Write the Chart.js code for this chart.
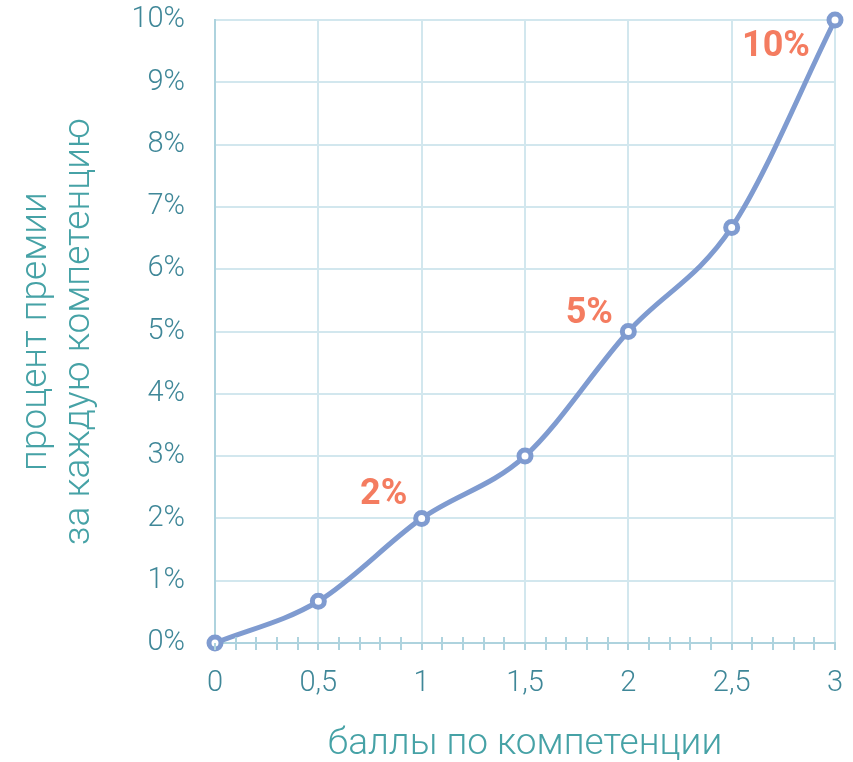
<!DOCTYPE html>
<html>
<head>
<meta charset="utf-8">
<script src="https://cdn.jsdelivr.net/npm/chart.js@4/dist/chart.umd.min.js"></script>
<style>
  html, body { margin: 0; padding: 0; background: #ffffff; }
  #wrap { width: 853px; height: 762px; }
</style>
</head>
<body>
<div id="wrap"><canvas id="c" width="853" height="762"></canvas></div>
<script>
// Score on the competency scale and the bonus percent earned for it
const scores = [0, 0.5, 1, 1.5, 2, 2.5, 3];
const bonusPercent = [0, 0.67, 2, 3, 5, 6.67, 10];
// Points whose value is written next to them
const labelledPoints = [2, 4, 6];
const xTitle = 'баллы по компетенции';
const yTitle = ['процент премии', 'за каждую компетенцию'];

const FONT = 'Roboto, "Open Sans", sans-serif';
const LINE = '#7f9bd0';
const GRID = '#d2e7ee';
const AXIS = '#aed3de';
const TICK_TEXT = '#3f8798';
const TITLE_TEXT = '#46a2a6';
const VALUE_TEXT = '#f47c60';
const NONE = 'rgba(0,0,0,0)';

// Tick marks along the x axis: every 0.5 below the line, every 0.1 across it
const xTickMarks = {
  id: 'xTickMarks',
  afterDatasetsDraw(chart) {
    const { ctx, scales: { x, y } } = chart;
    const base = y.getPixelForValue(0);
    ctx.save();
    ctx.strokeStyle = AXIS;
    ctx.lineWidth = 2;
    for (let i = 0; i <= 30; i++) {
      const major = i % 5 === 0;
      const px = Math.round(x.getPixelForValue(i / 10));
      ctx.beginPath();
      ctx.moveTo(px, major ? base : base - 6);
      ctx.lineTo(px, base + 7);
      ctx.stroke();
    }
    ctx.restore();
  }
};

// Value labels beside the chosen points
const valueLabels = {
  id: 'valueLabels',
  afterDatasetsDraw(chart, args, opts) {
    const { ctx } = chart;
    const meta = chart.getDatasetMeta(0);
    ctx.save();
    ctx.font = 'bold 36px ' + FONT;
    ctx.fillStyle = VALUE_TEXT;
    ctx.textAlign = 'center';
    ctx.textBaseline = 'middle';
    labelledPoints.forEach((idx, k) => {
      const pt = meta.data[idx];
      const off = opts.offsets[k];
      ctx.fillText(bonusPercent[idx] + '%', pt.x + off[0], pt.y + off[1]);
    });
    ctx.restore();
  }
};

new Chart(document.getElementById('c'), {
  type: 'line',
  data: {
    datasets: [{
      data: scores.map((s, i) => ({ x: s, y: bonusPercent[i] })),
      borderColor: LINE,
      borderWidth: 5,
      cubicInterpolationMode: 'monotone',
      pointRadius: 6,
      pointBorderWidth: 5,
      pointBackgroundColor: '#ffffff',
      pointBorderColor: LINE,
      clip: false
    }]
  },
  options: {
    responsive: false,
    animation: false,
    layout: { padding: { top: 20, right: 18, left: 0, bottom: 0 } },
    plugins: {
      legend: { display: false },
      tooltip: { enabled: false },
      valueLabels: { offsets: [[-38, -23], [-39, -18], [-59, 27]] }
    },
    scales: {
      x: {
        type: 'linear',
        min: 0, max: 3,
        border: { color: AXIS, width: 2 },
        grid: { color: GRID, lineWidth: 2, tickLength: 23, tickColor: NONE },
        ticks: {
          stepSize: 0.5,
          padding: 0,
          color: TICK_TEXT,
          font: { family: FONT, size: 29, weight: 300 },
          callback: v => String(v).replace('.', ',')
        },
        title: {
          display: true, text: xTitle, color: TITLE_TEXT,
          font: { family: FONT, size: 37, weight: 300 },
          padding: { top: 32, bottom: -5 }
        },
        afterFit: s => { s.height = 119; }
      },
      y: {
        min: 0, max: 10,
        border: { color: AXIS, width: 2 },
        grid: { color: GRID, lineWidth: 2, tickLength: 30, tickColor: NONE },
        ticks: {
          stepSize: 1,
          padding: 0,
          color: TICK_TEXT,
          font: { family: FONT, size: 29, weight: 300 },
          callback: v => v + '%'
        },
        title: {
          display: true, text: yTitle, color: TITLE_TEXT,
          font: { family: FONT, size: 37, weight: 300, lineHeight: 1.16 },
          padding: { top: 15, bottom: 0 }
        },
        afterFit: s => { s.width = 215; }
      }
    }
  },
  plugins: [xTickMarks, valueLabels]
});
</script>
</body>
</html>
